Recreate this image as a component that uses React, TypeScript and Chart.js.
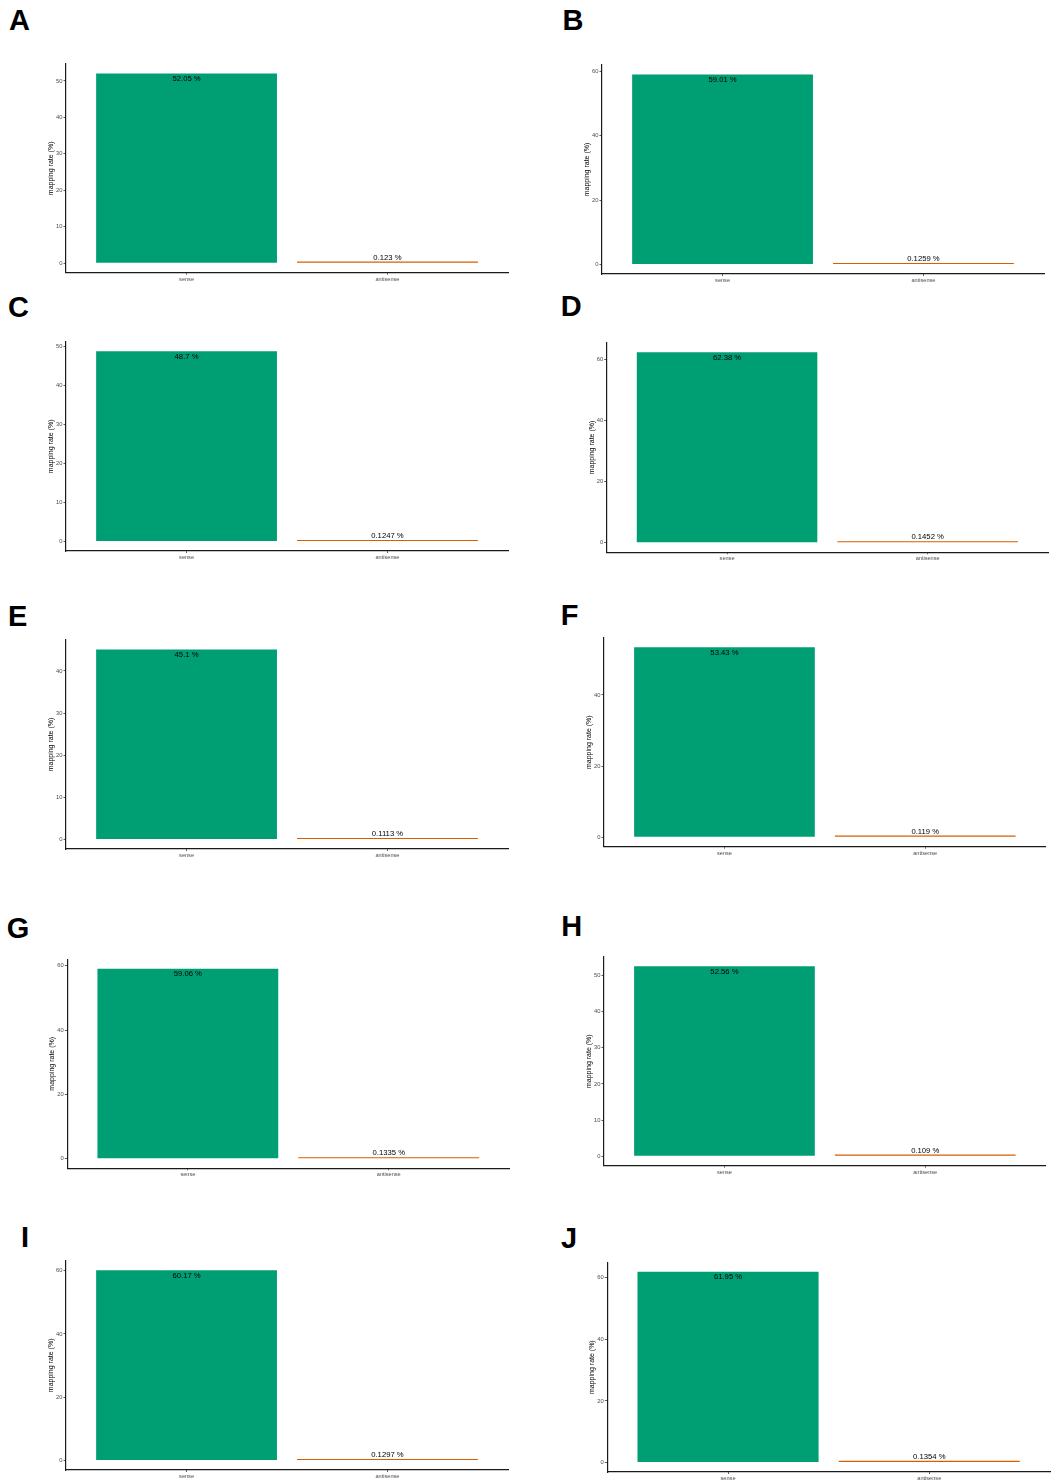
import React, { useEffect, useRef } from 'react';
import { Chart, registerables } from 'chart.js';

Chart.register(...registerables);

// ---------------- data ----------------
const panelLabels = ['A', 'B', 'C', 'D', 'E', 'F', 'G', 'H', 'I', 'J'];
const categories = ['sense', 'antisense'];
const senseValues = [52.05, 59.01, 48.7, 62.38, 45.1, 53.43, 59.06, 52.56, 60.17, 61.95];
const antisenseValues = [0.123, 0.1259, 0.1247, 0.1452, 0.1113, 0.119, 0.1335, 0.109, 0.1297, 0.1354];
const yTickSteps = [10, 20, 10, 20, 10, 20, 20, 10, 20, 20];
const yAxisTitle = 'mapping rate (%)';

// ---------------- layout (panel frames: axis left, top, right, bottom) ----------------
const frames: number[][] = [
  [66, 64, 508, 272.7],
  [602, 65, 1044, 274],
  [66, 341.7, 508, 551],
  [606.7, 342.7, 1048, 552.3],
  [66, 640, 508, 849],
  [604, 637.7, 1045.7, 846.7],
  [67.3, 959.3, 509.3, 1168.3],
  [604, 956.7, 1045.7, 1165.7],
  [66, 1260.7, 508, 1470],
  [607.3, 1262.3, 1050, 1472],
];
// letter glyph left, cap top
const letterPos: number[][] = [
  [9, 10], [562.5, 10], [8, 296.7], [560.7, 296], [8, 606],
  [560.7, 605], [6.8, 918], [561.2, 916], [21, 1227], [561, 1228],
];

const FONT = '"Liberation Sans", Arial, Helvetica, sans-serif';
const GREEN = '#009E73';
const ORANGE = '#D55E00';

function Panel({ index }: { index: number }) {
  const ref = useRef<HTMLCanvasElement>(null);
  const [L, T, R, B] = frames[index];
  const cx = Math.floor(L - 45);
  const cy = Math.floor(T - 12);
  const W = Math.ceil(R + 8) - cx;
  const H = Math.ceil(B + 16) - cy;

  useEffect(() => {
    if (!ref.current) return;
    const values = [senseValues[index], antisenseValues[index]];
    const vmax = Math.max(...values);
    const step = yTickSteps[index];
    const titleSize = 7;

    const labelPlugin = {
      id: 'valueLabels',
      afterDatasetsDraw(chart: any) {
        const ctx = chart.ctx;
        const ys = chart.scales.y;
        const xs = chart.scales.x;
        ctx.save();
        ctx.font = `7.7px ${FONT}`;
        ctx.fillStyle = '#000';
        ctx.textAlign = 'center';
        ctx.textBaseline = 'middle';
        values.forEach((v, i) => {
          const px = xs.getPixelForValue(i + 1);
          const py = ys.getPixelForValue(v);
          const ty = i === 0 ? py + 5.2 : py - 5.2;
          ctx.fillText(`${v} %`, px, ty);
        });
        ctx.restore();
      },
    };

    const chart = new Chart(ref.current, {
      type: 'bar',
      data: {
        datasets: [
          {
            data: values.map((v, i) => ({ x: i + 1, y: v })),
            backgroundColor: [GREEN, ORANGE],
            borderWidth: 0,
            barPercentage: 0.9,
            categoryPercentage: 1,
            minBarLength: 1.6,
            inflateAmount: 0,
          } as any,
        ],
      },
      options: {
        responsive: false,
        animation: false,
        devicePixelRatio: 1,
        layout: { padding: { left: 0, top: T - cy, right: W - (R - cx), bottom: 0 } },
        plugins: { legend: { display: false }, tooltip: { enabled: false } },
        scales: {
          x: {
            type: 'linear',
            min: 0.4,
            max: 2.6,
            offset: false,
            afterBuildTicks: (s: any) => {
              s.ticks = categories.map((_, i) => ({ value: i + 1 }));
            },
            afterFit: (s: any) => {
              s.height = cy + H - B;
            },
            ticks: {
              callback: (v: any) => categories[Math.round(v) - 1] ?? '',
              font: { family: FONT, size: 5.6 },
              color: '#4d4d4d',
              padding: 1,
              maxRotation: 0,
              autoSkip: false,
            },
            grid: {
              display: true,
              offset: false,
              drawOnChartArea: false,
              drawTicks: true,
              tickLength: 2,
              tickColor: '#333',
              tickWidth: 0.8,
            },
            border: { display: true, color: '#1a1a1a', width: 1.2 },
          },
          y: {
            type: 'linear',
            min: -0.05 * vmax,
            max: 1.05 * vmax,
            afterBuildTicks: (s: any) => {
              const t = [];
              for (let v = 0; v <= 1.05 * vmax; v += step) t.push({ value: v });
              s.ticks = t;
            },
            afterFit: (s: any) => {
              s.width = L - cx;
            },
            ticks: {
              callback: (v: any) => String(v),
              font: { family: FONT, size: 5.8 },
              color: '#4d4d4d',
              padding: 1,
              autoSkip: false,
            },
            grid: {
              display: true,
              drawOnChartArea: false,
              drawTicks: true,
              tickLength: 2.5,
              tickColor: '#333',
              tickWidth: 0.8,
            },
            border: { display: true, color: '#1a1a1a', width: 1.2 },
            title: {
              display: true,
              text: yAxisTitle,
              color: '#000',
              font: { family: FONT, size: titleSize },
              padding: { top: L - 15 - cx - (titleSize * 1.2) / 2, bottom: 0 },
            },
          },
        },
      } as any,
      plugins: [labelPlugin],
    });
    return () => chart.destroy();
  }, [index]);

  return (
    <canvas
      ref={ref}
      width={W}
      height={H}
      style={{ position: 'absolute', left: cx, top: cy, width: W, height: H }}
    />
  );
}

export default function App() {
  return (
    <div
      style={{
        position: 'absolute',
        left: 0,
        top: 0,
        width: 1053,
        height: 1482,
        background: '#fff',
        overflow: 'hidden',
      }}
    >
      {panelLabels.map((lab, i) => (
        <div
          key={'l' + i}
          style={{
            position: 'absolute',
            left: letterPos[i][0],
            top: letterPos[i][1] - 3.7,
            fontFamily: FONT,
            fontWeight: 'bold',
            fontSize: 29,
            lineHeight: '29px',
            color: '#000',
          }}
        >
          {lab}
        </div>
      ))}
      {panelLabels.map((_, i) => (
        <Panel key={'p' + i} index={i} />
      ))}
    </div>
  );
}
